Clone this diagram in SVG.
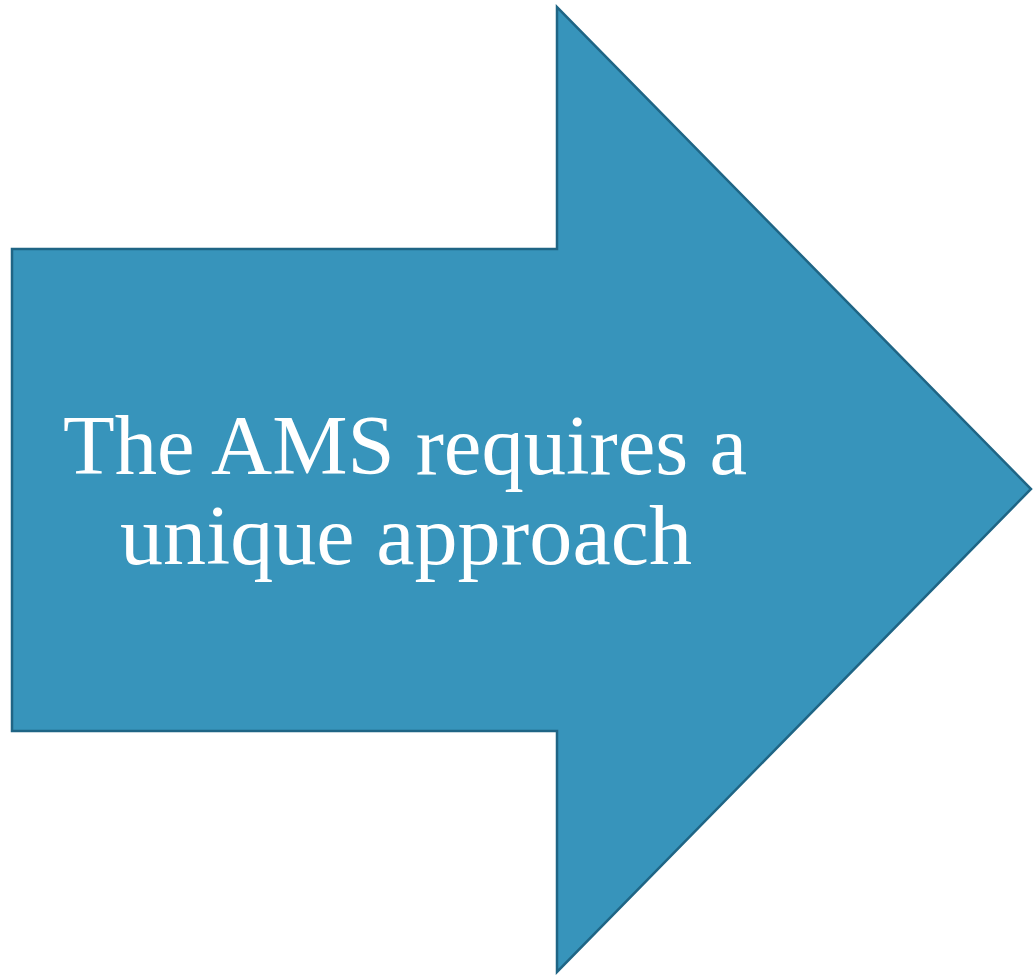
<svg xmlns="http://www.w3.org/2000/svg" width="1033" height="975" viewBox="0 0 1033 975">
<style>
.arrow{fill:#3794bb;stroke:#1f6585;stroke-width:2.5;stroke-linejoin:miter}
.lbl{font-family:"Liberation Serif","DejaVu Serif",serif;font-size:85px;fill:#ffffff;text-anchor:middle}
</style>
<rect width="1033" height="975" fill="#ffffff"/>
<g id="node-arrow">
<polygon class="arrow" points="12,249 557,249 557,7 1031,489 557,972 557,731 12,731"/>
<text class="lbl" x="405" y="474" textLength="684" lengthAdjust="spacingAndGlyphs">The AMS requires a</text>
<text class="lbl" x="406" y="564" textLength="572" lengthAdjust="spacingAndGlyphs">unique approach</text>
</g>
<g id="connectors"></g>
</svg>
